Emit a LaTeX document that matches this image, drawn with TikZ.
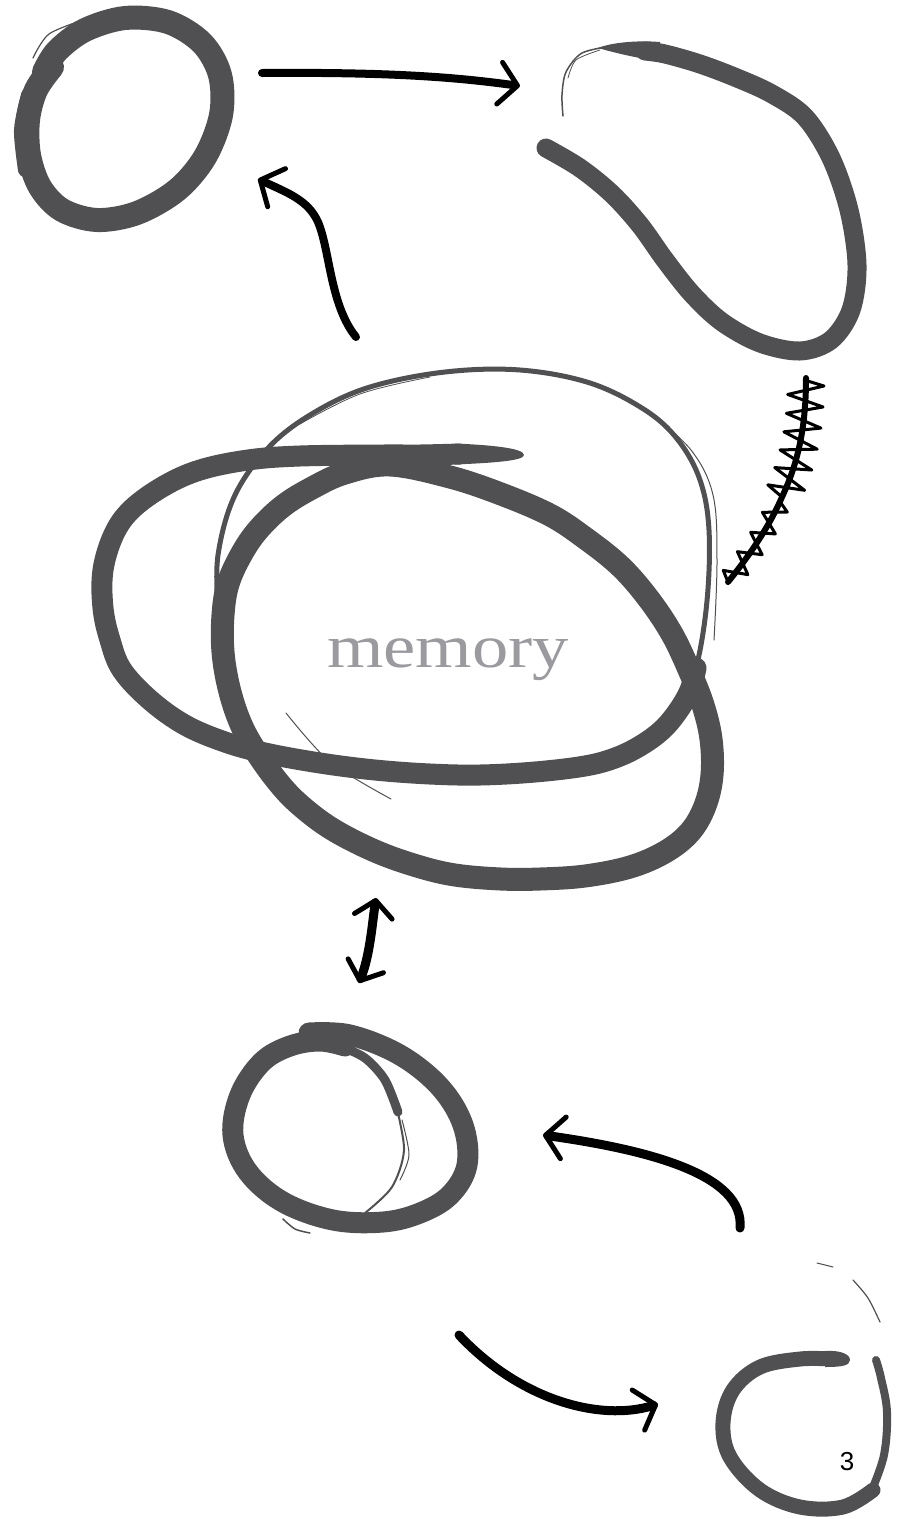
\documentclass[tikz,border=0pt]{standalone}
\usepackage{fontspec}
\setmainfont{Liberation Serif}
\newfontfamily\numfont{Liberation Sans}
\usetikzlibrary{arrows.meta,decorations.pathmorphing}
\definecolor{brush}{RGB}{80,80,82}
\definecolor{memgray}{RGB}{155,155,159}
\begin{document}
\begin{tikzpicture}[x=1pt,y=-1pt,
  brushline/.style={draw=brush, line cap=round, line join=round},
  hand/.style={draw=black, line width=8pt, line cap=round},
  barb/.style={-{Straight Barb[length=18pt,width=42pt,line width=5pt,round]}},
  dblbarb/.style={{Straight Barb[length=16pt,width=38pt,line width=5pt,round]}-{Straight Barb[length=16pt,width=38pt,line width=5pt,round]}}
]
\useasboundingbox (0,0) rectangle (898,1519);

% ---------- connector end points ----------
\coordinate (a1s) at (262,73);   \coordinate (a1e) at (520,86);
\coordinate (a2s) at (356,337);  \coordinate (a2e) at (258,179);
\coordinate (a3s) at (376,898);  \coordinate (a3e) at (359,983);
\coordinate (a4s) at (740,1228); \coordinate (a4e) at (543,1135);
\coordinate (a5s) at (459,1335); \coordinate (a5e) at (658,1404);
\coordinate (zA) at (728,582);   \coordinate (zM) at (782,497);  \coordinate (zB) at (806,378);

% ---------- top-left circle ----------
\draw[brushline, line width=24pt] plot[smooth, tension=0.55] coordinates {(52,67) (36,90) (28,120) (29,155) (40,187) (62,210) (97,220) (137,213) (177,190) (205,157) (221,115) (220,75) (202,43) (168,22) (125,18) (85,30) (57,51) (44,72)};
\draw[brushline, line width=14pt] plot[smooth] coordinates {(28,95) (21,130) (25,170)};
\draw[brushline, line width=1.2pt] plot[smooth] coordinates {(33,58) (49,34) (86,19)};

% ---------- top-right shape ----------
\draw[brushline, line width=19pt] plot[smooth, tension=0.55] coordinates {(546,148) (580,168) (612,194) (640,225) (665,260) (692,294) (722,322) (760,343) (800,351) (831,340) (851,310) (857,265) (849,210) (831,158) (805,117) (772,94) (737,78) (700,64) (665,54) (645,51)};
\fill[brush] (660,42) .. controls (635,40) and (610,43) .. (598,48) .. controls (612,52) and (635,58) .. (660,61) -- cycle;
\draw[brushline, line width=1.5pt] plot[smooth] coordinates {(612,46) (582,53) (566,72) (562,95) (563,116)};
\draw[brushline, line width=0.8pt] plot[smooth] coordinates {(600,50) (576,60) (568,78)};

% ---------- memory: thin loop ----------
\draw[brushline, line width=5pt] plot[smooth, tension=0.6] coordinates {(678,711) (696,668) (707,601) (709,530) (700,480) (678,440) (645,410) (590,383) (520,370) (445,372) (370,387) (315,412) (270,446) (235,495) (218,555) (218,610)};
\draw[brushline, line width=1pt] plot[smooth, tension=0.6] coordinates {(714,640) (717,560) (713,495) (691,450) (650,413)};
\draw[brushline, line width=0.8pt] plot[smooth, tension=0.6] coordinates {(430,377) (360,394) (300,424)};
\draw[brushline, line width=1pt] plot[smooth] coordinates {(286,713) (330,762) (391,799)};

% ---------- memory: horizontal ellipse ----------
\draw[brushline, line width=21pt] plot[smooth, tension=0.6] coordinates {(460,454) (420,455) (383,455) (300,456) (248,460) (200,470) (164,486) (132,509) (114,534) (103,570) (103,608) (110,640) (122,670) (150,700) (185,725) (225,742) (265,753) (320,763) (375,770) (430,774) (480,775) (535,772) (585,766) (615,758) (640,746) (662,730) (678,711) (690,690) (696,668)};
\fill[brush] (455,443.5) .. controls (490,445) and (524,448) .. (524,455) .. controls (524,461) and (490,463) .. (455,464.5) -- cycle;

% ---------- memory: tilted ellipse ----------
\draw[brushline, line width=23pt] plot[smooth cycle, tension=0.6] coordinates {(390,465) (450,477) (501,494) (550,515) (585,538) (620,566) (648,598) (672,634) (690,672) (703,705) (711,739) (712,775) (705,806) (690,832) (665,852) (630,867) (585,876) (540,879) (501,879) (455,875) (417,866) (375,851) (332,829) (300,805) (278,782) (255,750) (240,722) (229,688) (223,652) (223,615) (228,584) (241,555) (258,530) (283,506) (312,488) (345,473)};

\node[memgray, font=\fontsize{61}{63}\selectfont, anchor=base west, inner sep=0pt] (memory) at (327,667) {\scalebox{1.19}[1]{memory}};

% ---------- lower circle ----------
\draw[brushline, line width=21pt] plot[smooth, tension=0.6] coordinates {(309,1033) (350,1035) (400,1055) (440,1087) (463,1125) (467,1165) (450,1195) (420,1213) (383,1222) (333,1220) (283,1202) (248,1172) (233,1135) (240,1095) (262,1062) (290,1046) (320,1041) (345,1046)};
\draw[brushline, line width=9pt] plot[smooth] coordinates {(340,1046) (365,1058) (385,1080) (398,1112)};
\draw[brushline, line width=2pt] plot[smooth] coordinates {(396,1105) (404,1150) (392,1187) (365,1213)};
\draw[brushline, line width=1pt] plot[smooth] coordinates {(402,1120) (409,1155) (400,1180)};
\draw[brushline, line width=1.5pt] plot[smooth] coordinates {(283,1219) (295,1229) (310,1233)};

% ---------- bottom-right circle ----------
\draw[brushline, line width=15pt] plot[smooth, tension=0.6] coordinates {(830,1359) (800,1359) (760,1367) (733,1390) (723,1423) (730,1457) (760,1490) (800,1507) (843,1507) (873,1490)};
\fill[brush] (825,1351) .. controls (840,1350) and (850,1354) .. (850,1360) .. controls (850,1366) and (840,1367) .. (825,1367) -- cycle;
\draw[brushline, line width=8pt] plot[smooth, tension=0.6] coordinates {(871,1492) (884,1455) (887,1412) (881,1378) (876,1360)};
\draw[brushline, line width=1pt] plot[smooth] coordinates {(817,1263) (833,1267)};
\draw[brushline, line width=1.2pt] plot[smooth] coordinates {(853,1280) (868,1298) (880,1322)};

\node[font=\numfont\fontsize{26}{26}\selectfont, anchor=base, inner sep=0pt] (pagenum) at (847,1470) {3};

% ---------- connectors ----------
\draw[hand, barb] (a1s) .. controls (390,72) and (455,77) .. (a1e);
\draw[hand, barb] (a2s) .. controls (330,305) and (330,250) .. (318,222) .. controls (308,200) and (288,193) .. (a2e);
\draw[hand, line width=9pt, dblbarb] (a3s) .. controls (372,925) and (370,955) .. (a3e);
\draw[hand, line width=9pt, barb] (a4s) .. controls (745,1175) and (650,1150) .. (a4e);
\draw[hand, line width=9pt, barb] (a5s) .. controls (520,1400) and (600,1422) .. (a5e);

% zigzag connector
\draw[draw=black, line width=6pt, line cap=round] (zA) .. controls (750,555) and (770,525) .. (zM) .. controls (797,465) and (806,430) .. (zB);
\draw[draw=black, line width=3pt, line join=round, decorate, decoration={zigzag, segment length=24pt, amplitude=11pt}] (zA) .. controls (750,555) and (770,525) .. (zM);
\draw[draw=black, line width=3pt, line join=round, decorate, decoration={zigzag, segment length=20pt, amplitude=18pt}] (zM) .. controls (797,465) and (806,430) .. (zB);
\end{tikzpicture}
\end{document}
